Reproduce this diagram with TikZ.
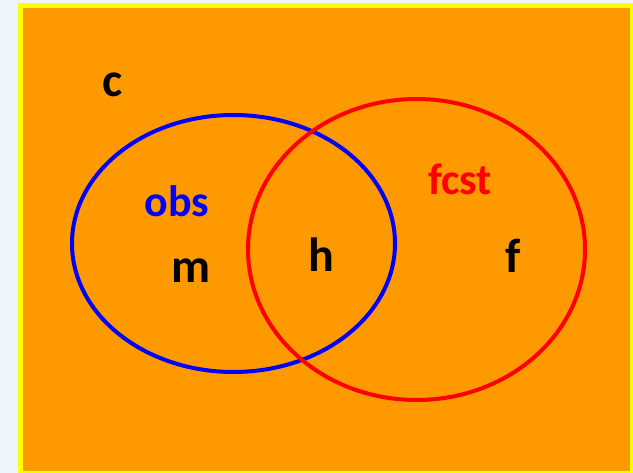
\documentclass[tikz,border=0pt]{standalone}
\usepackage{fontspec}
\setmainfont{Carlito}
\definecolor{bgblue}{HTML}{EEF4FC}
\definecolor{vorange}{HTML}{FF9900}
\definecolor{vyellow}{HTML}{FFFF00}
\definecolor{vblue}{HTML}{0000FF}
\definecolor{vred}{HTML}{FF0000}
\begin{document}
\begin{tikzpicture}[x=1pt,y=-1pt,
  setcircle/.style={line width=4pt},
  biglabel/.style={anchor=base,inner sep=0pt,font=\fontsize{48}{48}\selectfont\bfseries},
  setlabel/.style={anchor=base,inner sep=0pt,font=\fontsize{44}{44}\selectfont\bfseries}]
\clip (0,0) rectangle (633,473);
\fill[bgblue] (0,0) rectangle (633,473);
\draw[line width=5pt,draw=vyellow,fill=vorange] (20.5,5.5) rectangle (632.5,473.5);
\draw[setcircle,vblue] (233.5,243.5) ellipse [x radius=161.5,y radius=128.5];
\draw[setcircle,vred] (416.5,249.5) ellipse [x radius=168.5,y radius=150.5];
\node[biglabel] (c) at (113,97) {c};
\node[setlabel,text=vblue] (obs) at (177,217) {obs};
\node[biglabel] (m) at (191,283) {m};
\node[biglabel] (h) at (321,272) {h};
\node[setlabel,text=vred] (fcst) at (460,195) {fcst};
\node[biglabel] (f) at (513,273) {f};
\end{tikzpicture}
\end{document}
